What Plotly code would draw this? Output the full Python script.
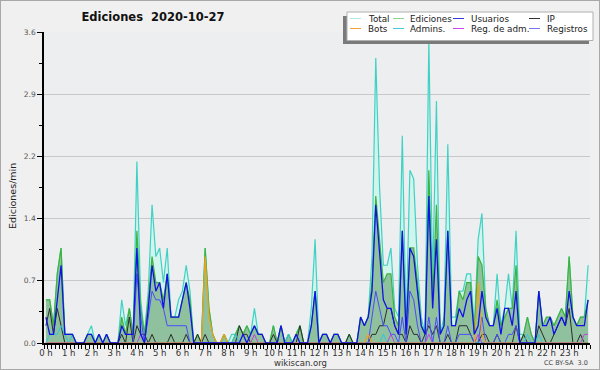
import plotly.graph_objects as go

# ---------------- data (edits per minute, 10-minute bins, 24 rows of 6) ----------------
bin_start_minutes = list(range(0, 1440, 10))
hour_ticks = list(range(24))
hour_labels = [f"{h} h" for h in hour_ticks]
y_ticks = [0.0, 0.72, 1.44, 2.16, 2.88, 3.6]
y_tick_labels = ["0.0", "0.7", "1.4", "2.2", "2.9", "3.6"]

total = [
    0.5, 0.5, 0.2, 0.8, 1.1, 0.1,
    0.1, 0.1, 0.0, 0.0, 0.0, 0.1,
    0.2, 0.0, 0.1, 0.0, 0.1, 0.0,
    0.0, 0.0, 0.5, 0.2, 0.4, 0.1,
    2.1, 0.5, 0.1, 0.6, 1.6, 1.0,
    1.1, 0.7, 1.1, 0.3, 0.3, 0.5,
    0.6, 0.9, 0.6, 0.0, 0.1, 0.0,
    1.1, 0.4, 0.1, 0.0, 0.0, 0.1,
    0.0, 0.1, 0.1, 0.2, 0.1, 0.2,
    0.1, 0.4, 0.1, 0.1, 0.0, 0.0,
    0.2, 0.0, 0.2, 0.0, 0.1, 0.0,
    0.1, 0.2, 0.0, 0.0, 0.4, 1.2,
    0.0, 0.1, 0.1, 0.0, 0.1, 0.1,
    0.0, 0.0, 0.1, 0.0, 0.0, 0.3,
    0.2, 0.3, 1.0, 3.3, 1.8, 0.9,
    0.9, 1.1, 0.4, 0.3, 2.4, 0.2,
    2.0, 1.9, 0.9, 0.3, 0.1, 3.5,
    0.7, 2.8, 0.1, 0.3, 2.3, 0.3,
    0.3, 0.6, 0.6, 0.8, 0.8, 0.2,
    1.2, 1.5, 0.4, 0.2, 0.2, 0.8,
    0.2, 0.4, 0.8, 0.4, 1.3, 0.1,
    0.1, 0.3, 0.1, 0.0, 0.6, 0.2,
    0.2, 0.3, 0.2, 0.3, 0.4, 0.3,
    1.0, 0.3, 0.2, 0.3, 0.3, 0.9,
]

ediciones = [
    0.5, 0.5, 0.2, 0.8, 1.1, 0.1,
    0.1, 0.1, 0.0, 0.0, 0.0, 0.1,
    0.1, 0.0, 0.1, 0.0, 0.1, 0.0,
    0.0, 0.0, 0.3, 0.1, 0.4, 0.1,
    1.3, 0.4, 0.1, 0.5, 1.0, 0.7,
    0.7, 0.5, 0.8, 0.3, 0.3, 0.3,
    0.5, 0.7, 0.5, 0.0, 0.1, 0.0,
    1.1, 0.4, 0.1, 0.0, 0.0, 0.1,
    0.0, 0.0, 0.1, 0.2, 0.1, 0.2,
    0.1, 0.2, 0.1, 0.1, 0.0, 0.0,
    0.2, 0.0, 0.2, 0.0, 0.1, 0.0,
    0.1, 0.2, 0.0, 0.0, 0.2, 0.6,
    0.0, 0.1, 0.1, 0.0, 0.1, 0.1,
    0.0, 0.0, 0.1, 0.0, 0.0, 0.3,
    0.2, 0.3, 0.7, 1.7, 1.2, 0.7,
    0.8, 0.8, 0.3, 0.2, 1.3, 0.1,
    1.1, 1.1, 0.7, 0.2, 0.1, 2.0,
    0.5, 1.6, 0.1, 0.2, 1.3, 0.2,
    0.2, 0.6, 0.5, 0.7, 0.7, 0.1,
    1.0, 0.9, 0.4, 0.2, 0.2, 0.5,
    0.2, 0.3, 0.4, 0.4, 0.9, 0.0,
    0.1, 0.3, 0.1, 0.0, 0.6, 0.2,
    0.3, 0.3, 0.2, 0.3, 0.4, 0.3,
    1.0, 0.3, 0.2, 0.3, 0.3, 0.5,
]

usuarios = [
    0.3, 0.1, 0.1, 0.5, 0.9, 0.1,
    0.1, 0.1, 0.0, 0.0, 0.0, 0.1,
    0.1, 0.0, 0.1, 0.0, 0.1, 0.0,
    0.0, 0.0, 0.2, 0.1, 0.1, 0.1,
    1.1, 0.1, 0.0, 0.4, 0.9, 0.6,
    0.7, 0.4, 0.8, 0.3, 0.3, 0.3,
    0.5, 0.7, 0.4, 0.0, 0.0, 0.0,
    0.0, 0.0, 0.0, 0.0, 0.0, 0.0,
    0.0, 0.0, 0.0, 0.0, 0.1, 0.0,
    0.1, 0.2, 0.1, 0.1, 0.0, 0.0,
    0.0, 0.0, 0.2, 0.0, 0.0, 0.0,
    0.1, 0.0, 0.0, 0.0, 0.2, 0.6,
    0.0, 0.1, 0.1, 0.0, 0.1, 0.1,
    0.0, 0.0, 0.0, 0.0, 0.0, 0.3,
    0.2, 0.3, 0.6, 1.6, 1.0, 0.5,
    0.4, 0.4, 0.2, 0.1, 1.3, 0.1,
    1.1, 1.0, 0.6, 0.2, 0.1, 1.7,
    0.4, 1.2, 0.1, 0.2, 1.3, 0.2,
    0.2, 0.4, 0.3, 0.5, 0.6, 0.1,
    0.2, 0.6, 0.3, 0.2, 0.2, 0.4,
    0.1, 0.4, 0.4, 0.2, 0.6, 0.0,
    0.0, 0.0, 0.0, 0.0, 0.6, 0.2,
    0.2, 0.3, 0.1, 0.2, 0.3, 0.2,
    0.6, 0.3, 0.2, 0.2, 0.2, 0.5,
]

ip = [
    0.2, 0.4, 0.1, 0.4, 0.2, 0.0,
    0.0, 0.0, 0.0, 0.0, 0.0, 0.0,
    0.0, 0.0, 0.0, 0.0, 0.0, 0.0,
    0.0, 0.0, 0.1, 0.0, 0.3, 0.0,
    0.2, 0.1, 0.1, 0.0, 0.1, 0.0,
    0.0, 0.0, 0.0, 0.1, 0.0, 0.0,
    0.0, 0.1, 0.0, 0.0, 0.1, 0.0,
    0.1, 0.0, 0.0, 0.0, 0.0, 0.0,
    0.0, 0.0, 0.0, 0.2, 0.1, 0.1,
    0.0, 0.0, 0.0, 0.0, 0.0, 0.0,
    0.1, 0.0, 0.0, 0.0, 0.0, 0.0,
    0.0, 0.2, 0.0, 0.0, 0.0, 0.0,
    0.0, 0.0, 0.0, 0.0, 0.0, 0.0,
    0.0, 0.0, 0.1, 0.0, 0.0, 0.0,
    0.0, 0.0, 0.1, 0.1, 0.2, 0.2,
    0.4, 0.4, 0.2, 0.1, 0.1, 0.0,
    0.2, 0.1, 0.1, 0.0, 0.1, 0.2,
    0.1, 0.2, 0.0, 0.0, 0.1, 0.0,
    0.0, 0.2, 0.2, 0.2, 0.1, 0.0,
    0.0, 0.1, 0.1, 0.0, 0.0, 0.1,
    0.0, 0.0, 0.0, 0.0, 0.2, 0.0,
    0.1, 0.0, 0.0, 0.0, 0.2, 0.1,
    0.0, 0.0, 0.1, 0.2, 0.3, 0.2,
    0.4, 0.0, 0.0, 0.1, 0.0, 0.0,
]

registros = [
    0.0, 0.0, 0.0, 0.0, 0.0, 0.0,
    0.0, 0.0, 0.0, 0.0, 0.0, 0.0,
    0.0, 0.0, 0.0, 0.0, 0.0, 0.0,
    0.0, 0.0, 0.0, 0.0, 0.0, 0.0,
    0.8, 0.3, 0.0, 0.3, 0.6, 0.5,
    0.5, 0.4, 0.2, 0.2, 0.2, 0.2,
    0.2, 0.2, 0.0, 0.0, 0.0, 0.0,
    0.0, 0.0, 0.0, 0.0, 0.0, 0.0,
    0.0, 0.0, 0.0, 0.0, 0.0, 0.0,
    0.0, 0.0, 0.0, 0.0, 0.0, 0.0,
    0.0, 0.0, 0.0, 0.0, 0.0, 0.0,
    0.0, 0.0, 0.0, 0.0, 0.0, 0.0,
    0.0, 0.0, 0.0, 0.0, 0.0, 0.0,
    0.0, 0.0, 0.0, 0.0, 0.0, 0.0,
    0.0, 0.0, 0.3, 0.6, 0.4, 0.2,
    0.2, 0.1, 0.1, 0.0, 0.3, 0.0,
    0.6, 0.5, 0.2, 0.0, 0.0, 0.3,
    0.0, 0.3, 0.0, 0.0, 0.2, 0.0,
    0.0, 0.1, 0.1, 0.1, 0.1, 0.0,
    0.0, 0.3, 0.0, 0.0, 0.0, 0.1,
    0.0, 0.0, 0.1, 0.1, 0.2, 0.0,
    0.0, 0.0, 0.0, 0.0, 0.0, 0.0,
    0.0, 0.0, 0.0, 0.0, 0.0, 0.0,
    0.0, 0.0, 0.0, 0.0, 0.0, 0.0,
]

bots = [
    0.0, 0.0, 0.0, 0.0, 0.0, 0.0,
    0.0, 0.0, 0.0, 0.0, 0.0, 0.0,
    0.0, 0.0, 0.0, 0.0, 0.0, 0.0,
    0.0, 0.0, 0.0, 0.0, 0.0, 0.0,
    0.0, 0.0, 0.0, 0.0, 0.0, 0.0,
    0.0, 0.0, 0.0, 0.0, 0.0, 0.0,
    0.0, 0.0, 0.0, 0.0, 0.0, 0.0,
    1.0, 0.3, 0.1, 0.0, 0.0, 0.1,
    0.0, 0.0, 0.0, 0.0, 0.0, 0.0,
    0.0, 0.0, 0.0, 0.0, 0.0, 0.0,
    0.0, 0.0, 0.0, 0.0, 0.0, 0.0,
    0.0, 0.0, 0.0, 0.0, 0.0, 0.0,
    0.0, 0.0, 0.0, 0.0, 0.0, 0.0,
    0.0, 0.0, 0.0, 0.0, 0.0, 0.0,
    0.0, 0.1, 0.0, 0.0, 0.0, 0.0,
    0.0, 0.0, 0.0, 0.0, 0.0, 0.0,
    0.0, 0.0, 0.0, 0.0, 0.0, 0.0,
    0.0, 0.0, 0.0, 0.0, 0.0, 0.0,
    0.0, 0.0, 0.0, 0.0, 0.0, 0.0,
    0.7, 0.1, 0.0, 0.0, 0.0, 0.0,
    0.0, 0.0, 0.0, 0.0, 0.0, 0.0,
    0.0, 0.0, 0.0, 0.0, 0.0, 0.0,
    0.0, 0.0, 0.0, 0.0, 0.0, 0.0,
    0.0, 0.0, 0.0, 0.0, 0.0, 0.0,
]

admins = [
    0.0, 0.1, 0.1, 0.1, 0.2, 0.1,
    0.0, 0.1, 0.0, 0.0, 0.0, 0.0,
    0.0, 0.0, 0.0, 0.0, 0.0, 0.0,
    0.0, 0.0, 0.0, 0.0, 0.0, 0.0,
    0.0, 0.0, 0.0, 0.0, 0.0, 0.0,
    0.0, 0.0, 0.0, 0.0, 0.0, 0.0,
    0.0, 0.0, 0.0, 0.0, 0.0, 0.0,
    0.0, 0.0, 0.0, 0.0, 0.0, 0.0,
    0.0, 0.0, 0.1, 0.0, 0.0, 0.0,
    0.0, 0.0, 0.0, 0.0, 0.0, 0.0,
    0.0, 0.0, 0.0, 0.0, 0.1, 0.0,
    0.0, 0.0, 0.0, 0.0, 0.0, 0.0,
    0.0, 0.0, 0.0, 0.0, 0.0, 0.0,
    0.0, 0.0, 0.0, 0.0, 0.0, 0.0,
    0.0, 0.0, 0.0, 0.0, 0.0, 0.1,
    0.0, 0.0, 0.0, 0.0, 0.0, 0.0,
    0.0, 0.0, 0.0, 0.0, 0.0, 0.0,
    0.0, 0.0, 0.0, 0.0, 0.0, 0.0,
    0.0, 0.0, 0.0, 0.0, 0.0, 0.0,
    0.0, 0.0, 0.0, 0.0, 0.0, 0.0,
    0.0, 0.0, 0.0, 0.0, 0.0, 0.0,
    0.0, 0.1, 0.0, 0.0, 0.1, 0.0,
    0.0, 0.0, 0.0, 0.0, 0.0, 0.0,
    0.0, 0.0, 0.0, 0.0, 0.0, 0.0,
]

reg_adm = [
    0.0, 0.0, 0.0, 0.0, 0.0, 0.0,
    0.0, 0.0, 0.0, 0.0, 0.0, 0.0,
    0.0, 0.0, 0.0, 0.0, 0.0, 0.0,
    0.0, 0.0, 0.0, 0.0, 0.0, 0.0,
    0.0, 0.1, 0.0, 0.0, 0.0, 0.0,
    0.0, 0.0, 0.0, 0.0, 0.0, 0.0,
    0.0, 0.0, 0.0, 0.0, 0.0, 0.0,
    0.0, 0.0, 0.0, 0.0, 0.0, 0.0,
    0.0, 0.0, 0.0, 0.0, 0.0, 0.0,
    0.0, 0.1, 0.0, 0.0, 0.0, 0.0,
    0.0, 0.0, 0.0, 0.0, 0.0, 0.0,
    0.0, 0.0, 0.0, 0.0, 0.0, 0.0,
    0.0, 0.0, 0.0, 0.0, 0.0, 0.0,
    0.0, 0.0, 0.0, 0.0, 0.0, 0.0,
    0.0, 0.0, 0.0, 0.0, 0.0, 0.0,
    0.0, 0.1, 0.0, 0.0, 0.0, 0.0,
    0.0, 0.0, 0.0, 0.0, 0.0, 0.1,
    0.0, 0.0, 0.0, 0.0, 0.0, 0.0,
    0.0, 0.0, 0.0, 0.0, 0.0, 0.0,
    0.1, 0.0, 0.0, 0.0, 0.0, 0.0,
    0.0, 0.0, 0.0, 0.0, 0.0, 0.0,
    0.0, 0.0, 0.0, 0.0, 0.0, 0.0,
    0.0, 0.0, 0.0, 0.0, 0.0, 0.0,
    0.0, 0.0, 0.0, 0.0, 0.1, 0.1,
]

legend_names = ["Total", "Ediciones", "Usuarios", "IP",
                "Bots", "Admins.", "Reg. de adm.", "Registros"]

# ---------------- figure ----------------
FONT = "DejaVu Sans"
W, H = 600, 370
ML, MR, MT, MB = 44, 10, 32, 27
PW, PH = W - ML - MR, H - MT - MB


def px2x(px):
    return (px - ML) / PW


def py2y(py):
    return (H - MB - py) / PH


x_hours = [(m + 5) / 60 for m in bin_start_minutes]

fig = go.Figure()

series = [
    # name, values, line color, width, fill
    ("Total", total, "#3fd2c4", 1.2, "rgba(208,243,236,0.95)"),
    ("Ediciones", ediciones, "#3cb43c", 1.2, "#8fc19f"),
    ("IP", ip, "#2d2d2d", 1.0, None),
    ("Registros", registros, "#4b4bff", 1.0, None),
    ("Admins.", admins, "#2fc6de", 1.0, None),
    ("Reg. de adm.", reg_adm, "#c040e0", 1.0, None),
    ("Bots", bots, "#f0a020", 1.2, None),
    ("Usuarios", usuarios, "#1212e6", 1.3, None),
]
for name, vals, col, w, fillc in series:
    kw = dict(fill="tozeroy", fillcolor=fillc) if fillc else {}
    fig.add_trace(go.Scatter(x=x_hours, y=vals, mode="lines", name=name,
                             line=dict(color=col, width=w),
                             showlegend=False, hoverinfo="skip", **kw))

fig.update_layout(
    width=W, height=H,
    margin=dict(l=ML, r=MR, t=MT, b=MB, pad=0, autoexpand=False),
    paper_bgcolor="#f0f0f0",
    plot_bgcolor="#eceef0",
    font=dict(family=FONT, color="#222"),
    title=dict(text="Ediciones\u00a0 2020-10-27", x=153 / W, xanchor="center",
               xref="container", y=1 - 17 / H, yanchor="middle", yref="container",
               font=dict(family=FONT, size=11.5, color="#111", weight="bold")),
)

fig.update_xaxes(
    range=[0, 24], tickmode="array", tickvals=hour_ticks, ticktext=hour_labels,
    showline=True, linecolor="black", linewidth=1.5, mirror=False,
    ticks="outside", ticklen=4, tickcolor="black", tickwidth=1,
    tickfont=dict(size=8.5, color="#333"), automargin=False,
    ticklabelstandoff=-3, ticklabelshift=2,
    minor=dict(dtick=1 / 6, tick0=0, ticks="outside", ticklen=4, tickcolor="black", tickwidth=1),
    showgrid=False, zeroline=False,
)
fig.update_yaxes(
    range=[0, 3.6], tickmode="array", tickvals=y_ticks, ticktext=y_tick_labels,
    showline=True, linecolor="black", linewidth=1.5, automargin=False,
    ticks="outside", ticklen=5, tickcolor="black", tickwidth=1,
    tickfont=dict(size=7.5, color="#555"),
    minor=dict(dtick=0.36, tick0=0, ticks="outside", ticklen=3, tickcolor="black", tickwidth=1,
               showgrid=False),
    showgrid=True, gridcolor="#c8c8c8", gridwidth=1, zeroline=False,
)

shapes = []
annotations = []

# outer frame
shapes.append(dict(type="rect", xref="paper", yref="paper",
                   x0=px2x(0), x1=px2x(W), y0=py2y(H), y1=py2y(0),
                   line=dict(color="#a8a8a8", width=2), fillcolor="rgba(0,0,0,0)", layer="above"))

# legend box with shadow
shapes.append(dict(type="rect", xref="paper", yref="paper",
                   x0=px2x(343), x1=px2x(589), y0=py2y(44), y1=py2y(16),
                   line=dict(width=0), fillcolor="#7a7a7a", layer="above"))
shapes.append(dict(type="rect", xref="paper", yref="paper",
                   x0=px2x(347), x1=px2x(593), y0=py2y(40.5), y1=py2y(12),
                   line=dict(color="#b0b0b0", width=1), fillcolor="white", layer="above"))

legend_colors = ["#aee8e8", "#88d488", "#3838dd", "#333333",
                 "#f5a030", "#44ccdd", "#cc44ee", "#7777ee"]
col_line_x = [350, 393, 453, 529]
col_text_x = [366, 408, 469, 545]
row_y = [18.5, 28.5]
for k, (nm, c) in enumerate(zip(legend_names, legend_colors)):
    r, cidx = divmod(k, 4)
    yy = py2y(row_y[r])
    shapes.append(dict(type="line", xref="paper", yref="paper",
                       x0=px2x(col_line_x[cidx]), x1=px2x(col_line_x[cidx] + 11),
                       y0=yy, y1=yy, line=dict(color=c, width=1), layer="above"))
    annotations.append(dict(text=nm, xref="paper", yref="paper", x=px2x(col_text_x[cidx]),
                            y=yy, xanchor="left", yanchor="middle", showarrow=False,
                            font=dict(size=8.8, color="#222", family=FONT)))

annotations.append(dict(text="Ediciones/min", xref="paper", yref="paper", x=px2x(12),
                        y=py2y(196), xanchor="center", yanchor="middle", showarrow=False,
                        textangle=-90, font=dict(size=9.5, color="#222", family=FONT)))
annotations.append(dict(text="wikiscan.org", xref="paper", yref="paper", x=px2x(300),
                        y=py2y(362.5), xanchor="center", yanchor="middle", showarrow=False,
                        font=dict(size=8.5, color="#333", family=FONT)))
annotations.append(dict(text="CC BY-SA  3.0", xref="paper", yref="paper", x=px2x(590),
                        y=py2y(363), xanchor="right", yanchor="middle", showarrow=False,
                        font=dict(size=6.5, color="#444", family=FONT)))

fig.update_layout(shapes=shapes, annotations=annotations)

fig.write_html("out.html", config={"displayModeBar": False},
               post_script="document.body.style.margin='0px';")
